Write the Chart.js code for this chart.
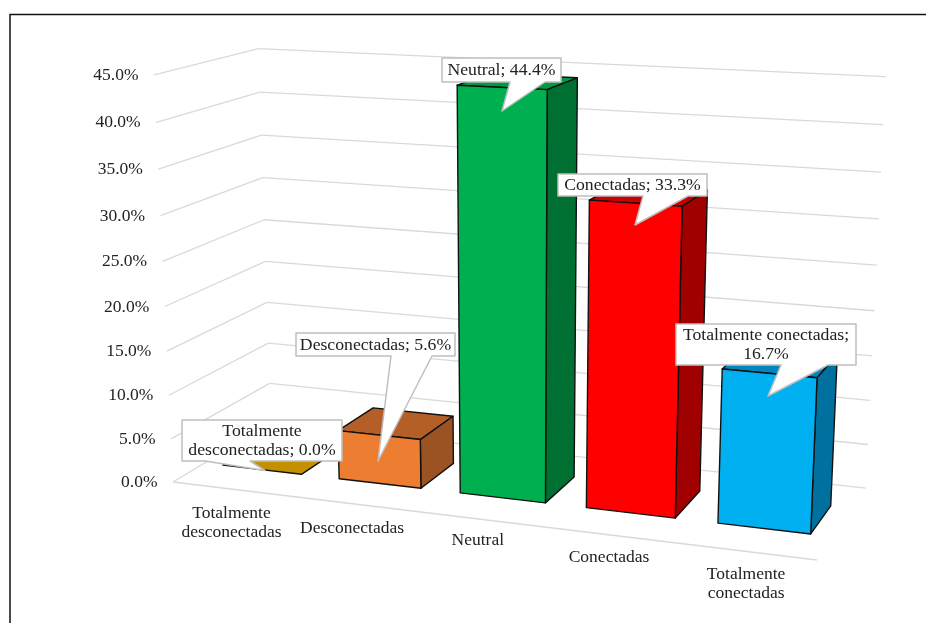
<!DOCTYPE html>
<html>
<head>
<meta charset="utf-8">
<style>
html, body { margin: 0; padding: 0; background: #fff; }
canvas { display: block; }
</style>
<script src="https://cdn.jsdelivr.net/npm/chart.js@4"></script>
</head>
<body>
<canvas id="chart" width="926" height="623"></canvas>
<script>
const categories = ['Totalmente desconectadas', 'Desconectadas', 'Neutral', 'Conectadas', 'Totalmente conectadas'];
const values = [0.0, 5.6, 44.4, 33.3, 16.7];
const axisLabels = [['Totalmente', 'desconectadas'], ['Desconectadas'], ['Neutral'], ['Conectadas'], ['Totalmente', 'conectadas']];
const calloutLabels = [
  ['Totalmente', 'desconectadas; 0.0%'],
  ['Desconectadas; 5.6%'],
  ['Neutral; 44.4%'],
  ['Conectadas; 33.3%'],
  ['Totalmente conectadas;', '16.7%']
];
const frontColors = ['#C49000', '#ED7D31', '#00B050', '#FF0000', '#00B0F0'];
const topColors = ['#C49000', '#B35F27', '#009A45', '#C80000', '#0088BE'];
const sideColors = ['#8C6800', '#9B5323', '#006F32', '#A00000', '#00709F'];

// callout boxes: [left, top, right, bottom, tailLeft, tailRight, tipX, tipY]
const calloutBoxes = [
  [182, 420, 342, 461, 205, 250, 265, 470.5],
  [296, 333, 455, 356, 391, 432, 378, 461],
  [442, 58, 561, 82, 510, 545, 502, 111],
  [558, 174, 707, 196, 643, 688, 635, 225],
  [676, 324, 856, 365, 781, 828, 768, 396]
];
// distance of each category label below the floor edge
const axisLabelGap = [24.5, 24.5, 21, 23, 23];

// perspective of the Excel style 3D box, vanishing points
const vpX = [-5540, -210], vpY = [515, 7800], vpZ = [1351, -225], origin = [173, 482];
const kX = -0.1013, kY = -0.0527, kZ = 0.0907;
const barFront = 0.305, barBack = 0.70;

function project(x, y, z) {
  const a = kX * x, b = kY * y, c = kZ * z;
  const w = 1 + a + b + c;
  return [
    (a * vpX[0] + b * vpY[0] + c * vpZ[0] + origin[0]) / w,
    (a * vpX[1] + b * vpY[1] + c * vpZ[1] + origin[1]) / w
  ];
}

function poly(ctx, pts, fill, stroke, lw) {
  ctx.beginPath();
  pts.forEach((p, i) => i ? ctx.lineTo(p[0], p[1]) : ctx.moveTo(p[0], p[1]));
  ctx.closePath();
  if (fill) { ctx.fillStyle = fill; ctx.fill(); }
  if (stroke) { ctx.strokeStyle = stroke; ctx.lineWidth = lw; ctx.stroke(); }
}

function seg(ctx, p, q) {
  ctx.beginPath();
  ctx.moveTo(p[0], p[1]);
  ctx.lineTo(q[0], q[1]);
  ctx.stroke();
}

const font = '17.5px "Liberation Serif"';
const calloutFont = '17.7px "Liberation Serif"';
const textColor = '#222';

const box3d = {
  id: 'box3d',
  beforeDatasetsDraw(chart) {
    const ctx = chart.ctx, yScale = chart.scales.y;
    const ny = v => (yScale.bottom - yScale.getPixelForValue(v)) / yScale.height;
    ctx.save();
    // page frame
    ctx.strokeStyle = '#111';
    ctx.lineWidth = 1.5;
    ctx.strokeRect(10, 14.5, 1000, 800);

    // walls
    ctx.strokeStyle = '#D9D9D9';
    ctx.lineWidth = 1.3;
    yScale.ticks.forEach(t => {
      const y = ny(t.value);
      seg(ctx, project(0, y, 0), project(0, y, 1));
      seg(ctx, project(0, y, 1), project(1, y, 1));
    });
    seg(ctx, project(0, 0, 0), project(1, 0, 0));

    // y tick labels
    ctx.font = font;
    ctx.fillStyle = textColor;
    ctx.textAlign = 'right';
    ctx.textBaseline = 'middle';
    yScale.ticks.forEach(t => {
      const p = project(0, ny(t.value), 0);
      ctx.fillText(t.label, p[0] - 15.5, p[1] + 0.5);
    });

    // category labels under the floor edge
    const xScale = chart.scales.x;
    ctx.textAlign = 'center';
    axisLabels.forEach((lines, i) => {
      const xn = (xScale.getPixelForValue(i) - xScale.left) / xScale.width;
      const p = project(xn, 0, 0);
      lines.forEach((s, k) => ctx.fillText(s, p[0], p[1] + axisLabelGap[i] + k * 18.5));
    });
    ctx.restore();
  },
  afterDatasetsDraw(chart) {
    const ctx = chart.ctx, area = chart.chartArea;
    const meta = chart.getDatasetMeta(0);
    ctx.save();
    ctx.lineJoin = 'round';
    meta.data.forEach((el, i) => {
      const x0 = (el.x - el.width / 2 - area.left) / (area.right - area.left);
      const x1 = (el.x + el.width / 2 - area.left) / (area.right - area.left);
      const y1 = (el.base - el.y) / (area.bottom - area.top);
      const stroke = '#111', lw = 1.4;
      // top, side, front
      poly(ctx, [project(x0, y1, barFront), project(x1, y1, barFront), project(x1, y1, barBack), project(x0, y1, barBack)], topColors[i], stroke, lw);
      if (y1 > 0) {
        poly(ctx, [project(x1, 0, barFront), project(x1, 0, barBack), project(x1, y1, barBack), project(x1, y1, barFront)], sideColors[i], stroke, lw);
        poly(ctx, [project(x0, 0, barFront), project(x1, 0, barFront), project(x1, y1, barFront), project(x0, y1, barFront)], frontColors[i], stroke, lw);
      }
    });

    // callouts
    ctx.font = calloutFont;
    ctx.textAlign = 'center';
    ctx.textBaseline = 'middle';
    calloutBoxes.forEach((b, i) => {
      const [l, t, r, bt, tl, tr, tx, ty] = b;
      poly(ctx, [[l, t], [r, t], [r, bt], [tr, bt], [tx, ty], [tl, bt], [l, bt]], '#fff', '#BFBFBF', 1.5);
      const lines = calloutLabels[i];
      const cx = (l + r) / 2, cy = (t + bt) / 2;
      ctx.fillStyle = textColor;
      lines.forEach((s, k) => ctx.fillText(s, cx, cy + (k - (lines.length - 1) / 2) * 19 + 0.5));
    });
    ctx.restore();
  }
};

new Chart(document.getElementById('chart'), {
  type: 'bar',
  data: {
    labels: categories,
    datasets: [{
      label: 'Serie',
      data: values,
      backgroundColor: 'rgba(0,0,0,0)',
      categoryPercentage: 1,
      barPercentage: 0.68
    }]
  },
  options: {
    responsive: false,
    animation: false,
    plugins: { legend: { display: false }, tooltip: { enabled: false } },
    scales: {
      x: { display: false },
      y: {
        display: false,
        min: 0,
        max: 45,
        ticks: { stepSize: 5, callback: v => v.toFixed(1) + '%' }
      }
    }
  },
  plugins: [box3d]
});
</script>
</body>
</html>
